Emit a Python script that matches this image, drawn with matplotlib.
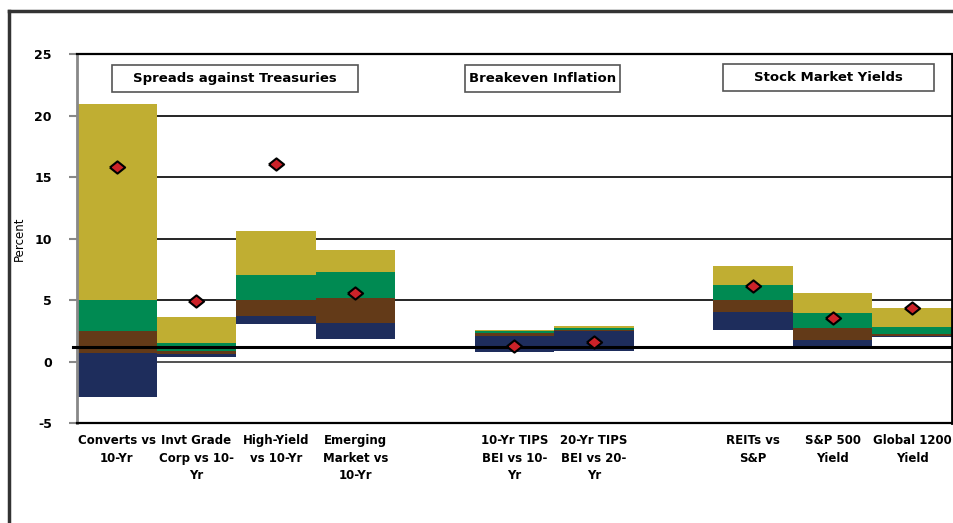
import numpy as np
import matplotlib
matplotlib.use('Agg')
import matplotlib.pyplot as plt
from matplotlib.patches import Rectangle
from matplotlib.lines import Line2D

plt.rcParams['axes.unicode_minus'] = False

# slot labels (two empty slots separate the groups)
categories = ['Converts vs\n10-Yr', 'Invt Grade\nCorp vs 10-\nYr', 'High-Yield\nvs 10-Yr',
              'Emerging\nMarket vs\n10-Yr', '', '10-Yr TIPS\nBEI vs 10-\nYr',
              '20-Yr TIPS\nBEI vs 20-\nYr', '', 'REITs vs\nS&P', 'S&P 500\nYield',
              'Global 1200\nYield']

# band boundaries (percent), bottom to top
low = [-2.9, 0.33, 3.06, 1.79, 0.0, 0.79, 0.84, 0.0, 2.57, 1.22, 2.03]
navy_top = [0.7, 0.63, 3.68, 3.14, 0.0, 2.11, 2.46, 0.0, 4.04, 1.71, 2.11]
brown_top = [2.46, 0.84, 5.0, 5.18, 0.0, 2.33, 2.6, 0.0, 5.0, 2.74, 2.25]
green_top = [5.0, 1.49, 7.05, 7.24, 0.0, 2.44, 2.76, 0.0, 6.18, 3.96, 2.79]
high = [20.9, 3.6, 10.65, 9.08, 0.0, 2.6, 2.9, 0.0, 7.8, 5.58, 4.31]

# current values (diamonds)
current = [15.85, 4.9, 16.07, 5.6, np.nan, 1.3, 1.6, np.nan, 6.12, 3.55, 4.37]

ref_level = 1.16
group_titles = ['Spreads against Treasuries', 'Breakeven Inflation', 'Stock Market Yields']

font = 'DejaVu Sans'
olive = '#C0AE32'
green = '#008A52'
brown = '#633A18'
navy = '#1E2D5C'

fig = plt.figure(figsize=(9.54, 5.23), dpi=100)
ax = fig.add_axes([0.0807, 0.1912, 0.9172, 0.7055])

x = np.arange(len(categories))
bands = [(low, navy_top, navy), (navy_top, brown_top, brown),
         (brown_top, green_top, green), (green_top, high, olive)]
for lo, hi, col in bands:
    lo = np.array(lo)
    hi = np.array(hi)
    ax.bar(x, hi - lo, bottom=lo, width=1.0, color=col, linewidth=0, zorder=2)

for v in [5, 10, 15, 20]:
    ax.axhline(v, color='black', lw=1.2, zorder=1)
ax.axhline(0, color='#333333', lw=1.2, zorder=1)
ax.axhline(ref_level, xmin=-0.005, color='black', lw=2.2, zorder=3, clip_on=False)

diamond = [(-1, 0), (0, 0.8), (1, 0), (0, -0.8), (-1, 0)]
ax.plot(x, current, linestyle='none', marker=diamond, markersize=11,
        markerfacecolor='#CC2229', markeredgecolor='black', markeredgewidth=1.5, zorder=4)

ax.set_xlim(-0.5, len(categories) - 0.5)
ax.set_ylim(-5, 25)
ax.set_yticks([-5, 0, 5, 10, 15, 20, 25])
ax.set_xticks(x)
ax.set_xticklabels(categories, fontfamily=font, fontweight='bold', fontsize=8.5,
                   linespacing=1.45)
ax.tick_params(axis='x', length=0, pad=8)
ax.tick_params(axis='y', length=6, width=1.5, color='#888888', pad=12)
for lab in ax.get_yticklabels():
    lab.set_fontfamily(font)
    lab.set_fontweight('bold')
    lab.set_fontsize(9)

ax.spines['left'].set_color('#888888')
ax.spines['left'].set_linewidth(2)
ax.spines['top'].set_linewidth(1.6)
ax.spines['bottom'].set_linewidth(1.6)
ax.spines['right'].set_linewidth(2)

ax.set_ylabel('Percent', fontfamily='Liberation Sans Narrow', fontsize=8.5)
ax.yaxis.set_label_coords(-0.058, 0.5)

# group title boxes (axes fraction)
boxes = [(0.040, 0.321, 0.897, 0.970), (0.443, 0.621, 0.897, 0.970),
         (0.738, 0.979, 0.900, 0.973)]
for title, (x0, x1, y0, y1) in zip(group_titles, boxes):
    ax.add_patch(Rectangle((x0, y0), x1 - x0, y1 - y0, transform=ax.transAxes,
                           facecolor='white', edgecolor='#555555', lw=1.2, zorder=5))
    ax.text((x0 + x1) / 2, (y0 + y1) / 2, title, transform=ax.transAxes,
            ha='center', va='center', fontfamily=font, fontweight='bold',
            fontsize=9.5, zorder=6)

# outer frame
fig.add_artist(Line2D([9 / 954, 1.0], [1 - 11 / 523] * 2, color='#333333', lw=2.5))
fig.add_artist(Line2D([9 / 954] * 2, [0, 1 - 11 / 523], color='#333333', lw=2.5))

fig.savefig('out.png', dpi=100)
